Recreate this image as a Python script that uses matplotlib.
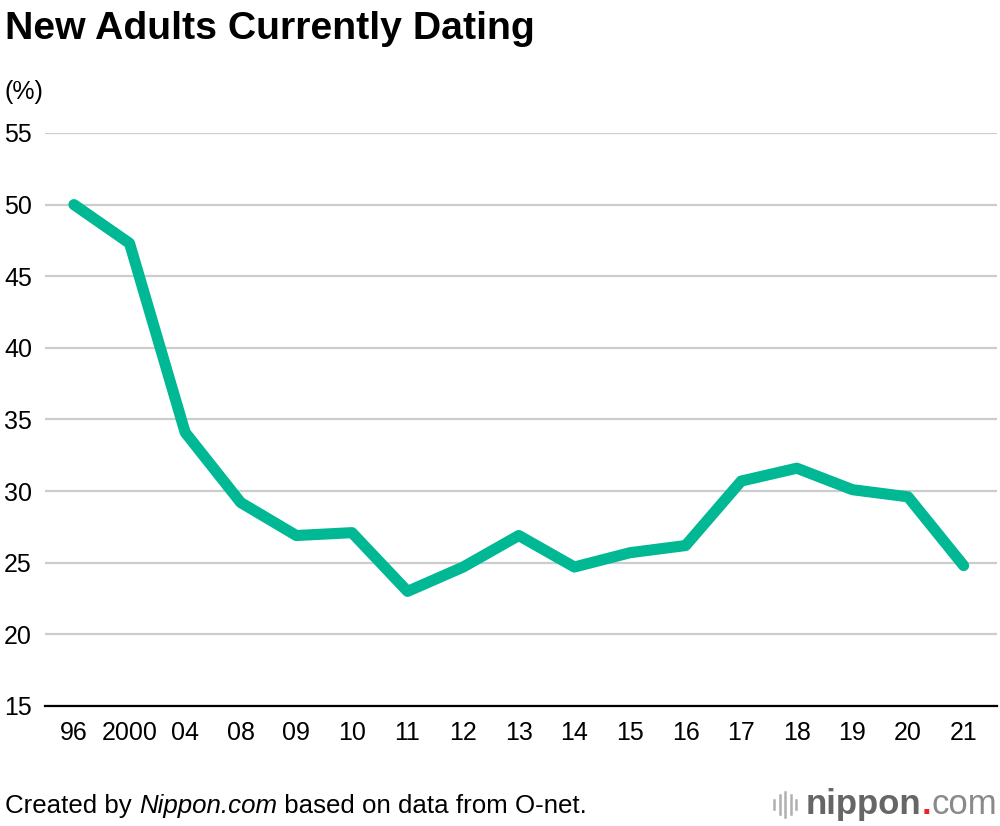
import matplotlib.pyplot as plt
from matplotlib.lines import Line2D

plt.rcParams['font.family'] = ['Liberation Sans', 'DejaVu Sans']

years = ["96", "2000", "04", "08", "09", "10", "11", "12", "13", "14",
         "15", "16", "17", "18", "19", "20", "21"]
dating = [50.0, 47.3, 34.1, 29.2, 26.9, 27.1, 23.0, 24.7, 26.9, 24.7,
          25.7, 26.2, 30.7, 31.6, 30.1, 29.6, 24.8]
yticks = [15, 20, 25, 30, 35, 40, 45, 50, 55]

fig = plt.figure(figsize=(10, 8.26), dpi=100)
ax = fig.add_axes([0.045, 0.1453, 0.952, 0.6937])

x = list(range(len(years)))
ax.plot(x, dating, color='#00b894', lw=8, solid_joinstyle='round',
        solid_capstyle='round', zorder=3, clip_on=False)

ax.set_ylim(15, 55)
ax.set_xlim(-0.52, 16.6)
ax.set_yticks(yticks)
ax.set_xticks(x)
ax.set_xticklabels(years)
ax.grid(axis='y', color='#cccccc', lw=1.6)
ax.set_axisbelow(True)
for s in ['top', 'right', 'left']:
    ax.spines[s].set_visible(False)
ax.spines['bottom'].set_color('black')
ax.spines['bottom'].set_linewidth(1.6)
ax.spines['bottom'].set_zorder(4)
ax.tick_params(axis='y', length=0, labelsize=18, pad=0)
ax.tick_params(axis='x', length=0, labelsize=18, pad=11)
for lbl in ax.get_yticklabels():
    lbl.set_horizontalalignment('left')
    lbl.set_x(-0.043)

fig.text(0.005, 0.965, "New Adults Currently Dating", fontsize=28.3,
         fontweight='bold', va='center', ha='left')
fig.text(0.005, 0.889, "(%)", fontsize=18, va='center', ha='left')

fig.canvas.draw()
r = fig.canvas.get_renderer()
t = fig.text(0.005, 0.024, "Created by ", fontsize=18.6, va='center', ha='left')
bb = t.get_window_extent(r)
t2 = fig.text(bb.x1 / 1000, 0.024, "Nippon.com", fontsize=18.6, style='italic',
              va='center', ha='left')
bb2 = t2.get_window_extent(r)
fig.text(bb2.x1 / 1000, 0.024, " based on data from O-net.", fontsize=18.6,
         va='center', ha='left')

# logo
t3 = fig.text(0.997, 0.026, "com", fontsize=25, color='#8a8a8a', va='center',
              ha='right')
bb3 = t3.get_window_extent(r)
t5 = fig.text(bb3.x0 / 1000, 0.026, ".", fontsize=25, color='#e8242a',
              fontweight='bold', va='center', ha='right')
bb5 = t5.get_window_extent(r)
t4 = fig.text(bb5.x0 / 1000, 0.026, "nippon", fontsize=25, color='#666666',
              fontweight='bold', va='center', ha='right')
bb4 = t4.get_window_extent(r)
lx = bb4.x0 / 1000 - 0.010
heights = [0.012, 0.022, 0.030, 0.022, 0.012]
for i, h in enumerate(heights):
    xx = lx - (len(heights) - 1 - i) * 0.0055
    fig.add_artist(Line2D([xx, xx], [0.026 - h / 2, 0.026 + h / 2],
                          color='#b0b0b0', lw=1.8))

fig.savefig('out.png', dpi=100)
